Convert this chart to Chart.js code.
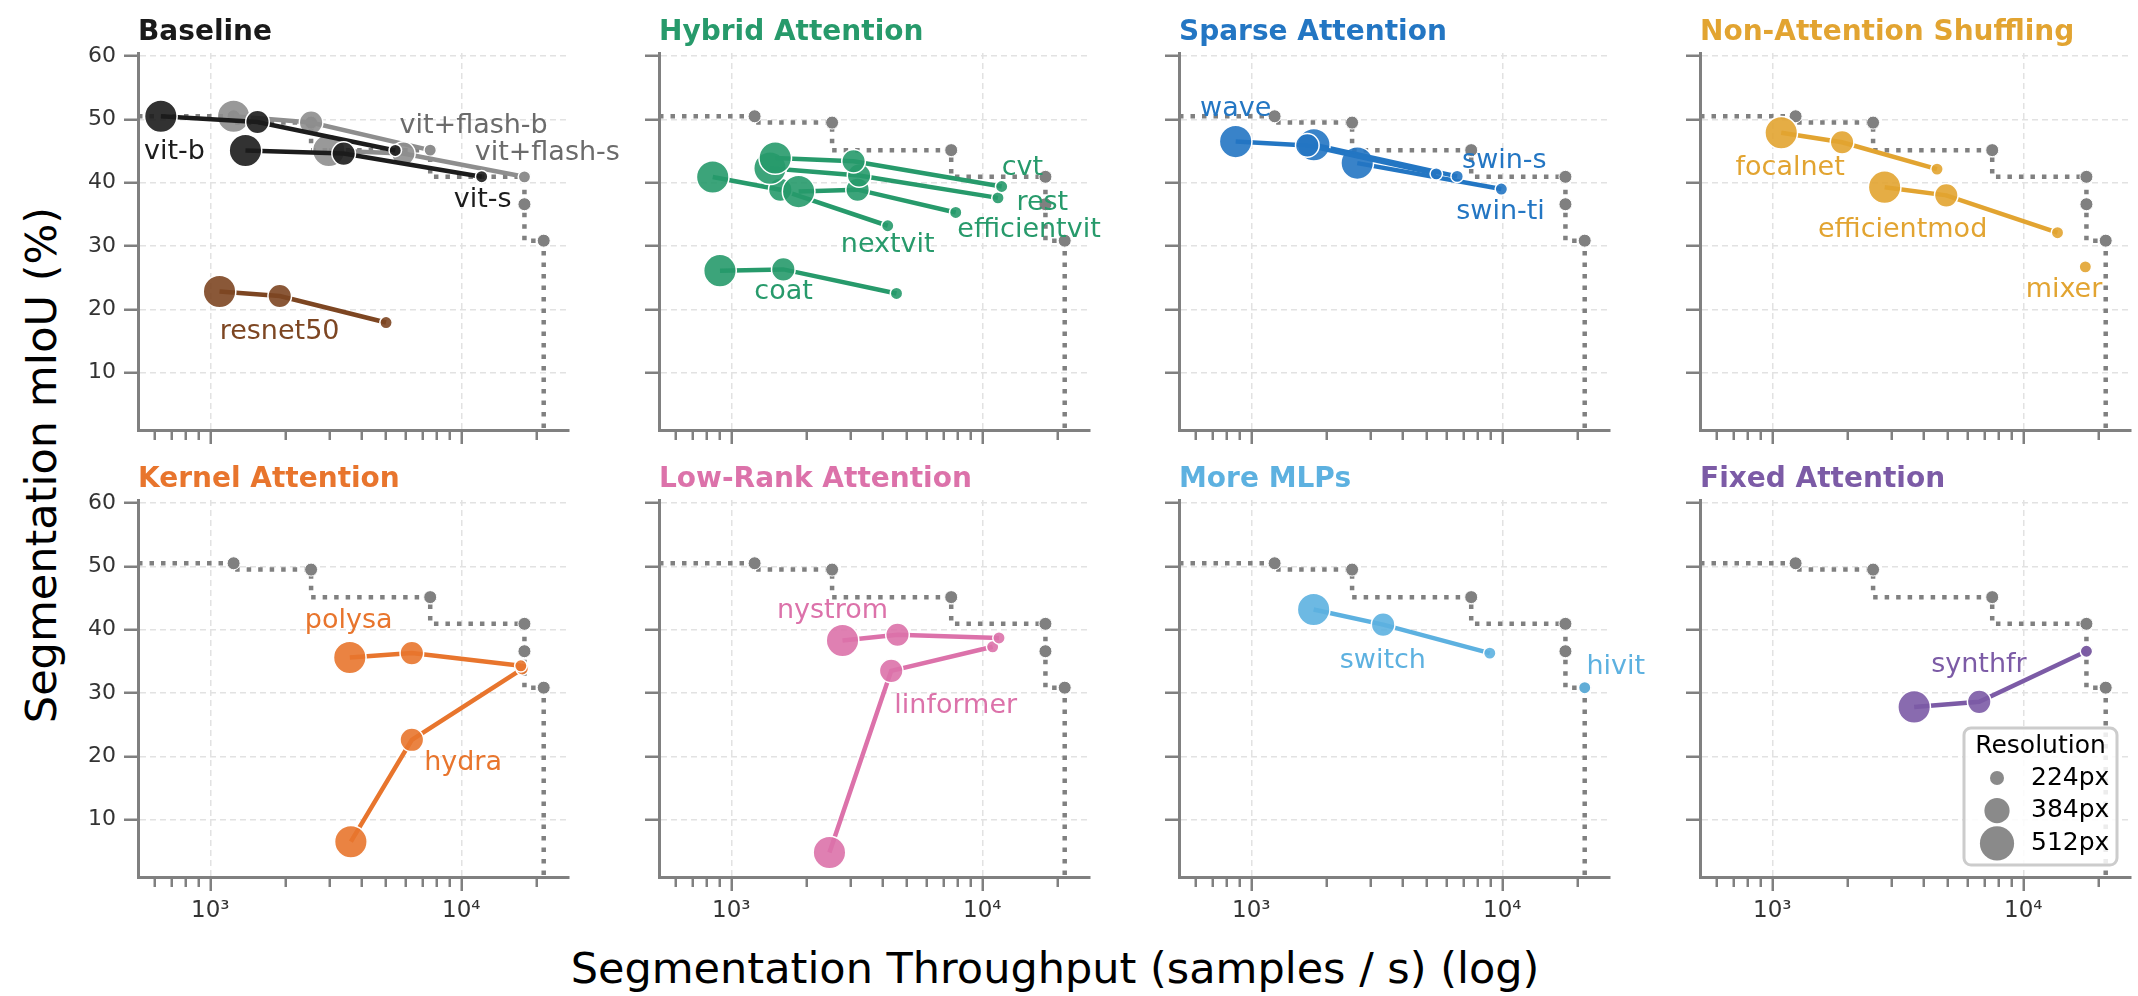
<!DOCTYPE html>
<html>
<head>
<meta charset="utf-8">
<script src="https://cdn.jsdelivr.net/npm/chart.js@4.4.0/dist/chart.umd.min.js"></script>
<style>
  html, body { margin: 0; padding: 0; overflow: hidden; background: #fff; }
  body { width: 2138px; height: 996px; position: relative; font-family: "DejaVu Sans", sans-serif; }
  canvas { position: absolute; }
  .axis-label { position: absolute; font-size: 43px; color: #000; white-space: nowrap; }
</style>
</head>
<body>
<div class="axis-label" style="left:41px; top:465px; transform: translate(-50%,-50%) rotate(-90deg);">Segmentation mIoU (%)</div>
<div class="axis-label" style="left:1055px; top:968px; transform: translate(-50%,-50%);">Segmentation Throughput (samples / s) (log)</div>
<script>
// each model: [throughput (samples/s), mIoU (%), resolution (px)]
const vitB = [[635, 50.5, 512], [1541, 49.6, 384], [5455, 45.1, 224]];
const vitS = [[1380, 45.1, 512], [3398, 44.6, 384], [12050, 40.95, 224]];
const vitFlashB = [[1238, 50.5, 512], [2520, 49.5, 384], [7516, 45.15, 224]];
const vitFlashS = [[2965, 45.1, 512], [5875, 44.6, 384], [17840, 40.93, 224]];
const resnet50 = [[1088, 22.8, 512], [1890, 22.1, 384], [5012, 17.9, 224]];

const cvt = [[1496, 43.9, 512], [3069, 43.4, 384], [11940, 39.4, 224]];
const rest = [[1426, 42.3, 512], [3228, 41.15, 384], [11540, 37.6, 224]];
const efficientvit = [[1854, 38.6, 512], [3184, 38.9, 384], [7834, 35.3, 224]];
const nextvit = [[843, 40.9, 512], [1567, 38.9, 384], [4198, 33.2, 224]];
const coat = [[901, 26.1, 512], [1611, 26.3, 384], [4550, 22.5, 224]];

const wave = [[866, 46.5, 512], [1671, 45.9, 384], [5455, 41.4, 224]];
const swinS = [[1775, 46.0, 512], [6607, 41.0, 224]];
const swinTi = [[2642, 43.1, 512], [9910, 39.0, 224]];

const focalnet = [[1085, 47.9, 512], [1896, 46.4, 384], [4530, 42.15, 224]];
const efficientmod = [[2802, 39.3, 512], [4932, 38.0, 384], [13680, 32.1, 224]];
const mixer = [[17660, 26.7, 224]];

const polysa = [[3594, 35.6, 512], [6350, 36.3, 384], [17260, 34.3, 224]];
const hydra = [[3630, 6.5, 512], [6350, 22.6, 384], [17490, 33.8, 224]];

const nystrom = [[2773, 38.3, 512], [4592, 39.2, 384], [11650, 38.7, 224]];
const linformer = [[2460, 4.8, 512], [4334, 33.5, 384], [10990, 37.3, 224]];

const switchMlp = [[1771, 43.2, 512], [3350, 40.8, 384], [8912, 36.3, 224]];
const hivit = [[21290, 30.84, 224]];

const synthfr = [[3673, 27.8, 512], [6671, 28.6, 384], [17840, 36.6, 224]];

// pareto front (grey dotted step line)
const paretoX = [1238, 2520, 7516, 17840, 17840, 21290];
const paretoY = [50.5, 49.5, 45.15, 40.93, 36.6, 30.84];

const xTicks = [600, 700, 800, 900, 1000, 2000, 3000, 4000, 5000, 6000, 7000, 8000, 9000, 10000, 20000];
const xMajor = [1000, 10000];
const yTicks = [10, 20, 30, 40, 50, 60];
const resolutions = [224, 384, 512];

// label anchors (text centre, in data coords)
const baselineLabels = [['vit-b', 719, 44.8], ['vit+flash-b', 11190, 48.9], ['vit+flash-s', 22000, 44.7], ['vit-s', 12160, 37.3], ['resnet50', 1888, 16.4]];
const hybridLabels = [['cvt', 14450, 42.3], ['rest', 17330, 36.8], ['efficientvit', 15350, 32.55], ['nextvit', 4198, 30.2], ['coat', 1615, 22.7]];
const sparseLabels = [['wave', 866, 51.7], ['swin-s', 10190, 43.5], ['swin-ti', 9840, 35.45]];
const shuffleLabels = [['focalnet', 1178, 42.3], ['efficientmod', 3304, 32.5], ['mixer', 14520, 23.1]];
const kernelLabels = [['polysa', 3556, 41.4], ['hydra', 10160, 18.9]];
const lowRankLabels = [['nystrom', 2529, 43.0], ['linformer', 7834, 27.9]];
const mlpLabels = [['switch', 3342, 35.1], ['hivit', 28310, 34.15]];
const fixedLabels = [['synthfr', 6653, 34.4]];

const FONT = '"DejaVu Sans", sans-serif';
Chart.defaults.font.family = FONT;

const X_MIN = 515, X_MAX = 26850;
const Y_MIN = 0.92, Y_MAX = 60.5;
const RADIUS = {224: 6.2, 384: 11.8, 512: 16.3};
const AXIS_GREY = '#808080';

const C = {
  black: '#1c1c1c', grey: '#8e8e8e', brown: '#7d4622', green: '#279a6b', blue: '#2376c3',
  gold: '#e2a431', orange: '#e8752d', pink: '#dc72aa', sky: '#5db1e0', purple: '#7c5ba6'
};

function rgba(hex, a) {
  const n = parseInt(hex.slice(1), 16);
  return `rgba(${n >> 16},${(n >> 8) & 255},${n & 255},${a})`;
}

const panels = [
  { title: 'Baseline', color: '#1a1a1a', labels: baselineLabels, series: [
    ['vit+flash-b', vitFlashB, C.grey, '#6b6b6b'], ['vit+flash-s', vitFlashS, C.grey, '#6b6b6b'],
    ['vit-b', vitB, C.black], ['vit-s', vitS, C.black], ['resnet50', resnet50, C.brown]] },
  { title: 'Hybrid Attention', color: C.green, labels: hybridLabels, series: [
    ['coat', coat, C.green], ['nextvit', nextvit, C.green], ['efficientvit', efficientvit, C.green],
    ['rest', rest, C.green], ['cvt', cvt, C.green]] },
  { title: 'Sparse Attention', color: C.blue, labels: sparseLabels, series: [
    ['swin-ti', swinTi, C.blue], ['swin-s', swinS, C.blue], ['wave', wave, C.blue]] },
  { title: 'Non-Attention Shuffling', color: C.gold, labels: shuffleLabels, series: [
    ['focalnet', focalnet, C.gold], ['efficientmod', efficientmod, C.gold], ['mixer', mixer, C.gold]] },
  { title: 'Kernel Attention', color: C.orange, labels: kernelLabels, series: [
    ['hydra', hydra, C.orange], ['polysa', polysa, C.orange]] },
  { title: 'Low-Rank Attention', color: C.pink, labels: lowRankLabels, series: [
    ['linformer', linformer, C.pink], ['nystrom', nystrom, C.pink]] },
  { title: 'More MLPs', color: C.sky, labels: mlpLabels, series: [
    ['switch', switchMlp, C.sky], ['hivit', hivit, C.sky]] },
  { title: 'Fixed Attention', color: C.purple, labels: fixedLabels, series: [
    ['synthfr', synthfr, C.purple]] }
];

const COL_LEFT = [138, 659, 1179, 1700];
const ROW_TOP = [53, 500];
const AREA_W = 431, AREA_H = 377;
const PAD_L = 80, PAD_T = 60, PAD_R = 75, PAD_B = 60;

// titles + text annotations
const panelText = {
  id: 'panelText',
  afterDatasetsDraw(chart, args, opts) {
    const {ctx, chartArea, scales: {x, y}} = chart;
    ctx.save();
    ctx.font = 'bold 28px ' + FONT;
    ctx.fillStyle = opts.color;
    ctx.textAlign = 'left';
    ctx.textBaseline = 'alphabetic';
    ctx.fillText(opts.title, chartArea.left, chartArea.top - 13);
    ctx.font = '27px ' + FONT;
    ctx.textAlign = 'center';
    ctx.textBaseline = 'middle';
    opts.labels.forEach(([text, lx, ly]) => {
      const s = opts.series.find(d => d[0] === text);
      ctx.fillStyle = s[3] || s[2];
      ctx.fillText(text, x.getPixelForValue(lx), y.getPixelForValue(ly));
    });
    ctx.restore();
  }
};

// "Resolution" size legend
const resLegend = {
  id: 'resLegend',
  afterDraw(chart, args, opts) {
    if (!opts.show) return;
    const {ctx, chartArea: a} = chart;
    const w = 153, h = 137;
    const x0 = a.right - 167, y0 = a.bottom - 149;
    ctx.save();
    ctx.beginPath();
    ctx.roundRect(x0, y0, w, h, 7);
    ctx.fillStyle = 'rgba(255,255,255,0.85)';
    ctx.fill();
    ctx.lineWidth = 3;
    ctx.strokeStyle = '#cccccc';
    ctx.stroke();
    ctx.fillStyle = '#000';
    ctx.font = '25px ' + FONT;
    ctx.textAlign = 'center';
    ctx.textBaseline = 'middle';
    ctx.fillText('Resolution', x0 + w / 2, y0 + 18);
    ctx.textAlign = 'left';
    resolutions.forEach((r, i) => {
      const cy = y0 + 50 + i * 32.7;
      ctx.beginPath();
      ctx.arc(x0 + 33, cy, RADIUS[r] + 0.8, 0, Math.PI * 2);
      ctx.fillStyle = '#8a8a8a';
      ctx.fill();
      ctx.fillStyle = '#000';
      ctx.fillText(r + 'px', x0 + 67, cy);
    });
    ctx.restore();
  }
};

panels.forEach((p, i) => {
  const col = i % 4, row = Math.floor(i / 4);
  const cv = document.createElement('canvas');
  cv.width = PAD_L + AREA_W + PAD_R;
  cv.height = PAD_T + AREA_H + PAD_B;
  cv.style.left = (COL_LEFT[col] - PAD_L) + 'px';
  cv.style.top = (ROW_TOP[row] - PAD_T) + 'px';
  document.body.appendChild(cv);

  const n = p.series.length;
  const datasets = p.series.map(([name, pts, color], k) => ({
    label: name,
    data: pts.map(([x, y]) => ({x, y})),
    borderColor: color,
    borderWidth: 4.5,
    pointRadius: pts.map(q => RADIUS[q[2]]),
    pointBackgroundColor: rgba(color, 0.9),
    pointBorderColor: '#ffffff',
    pointBorderWidth: 1.5,
    order: n - k
  }));
  const front = paretoX.map((x, k) => ({x, y: paretoY[k]}));
  datasets.push({
    label: 'pareto',
    data: [{x: X_MIN, y: paretoY[0]}, ...front, {x: paretoX[paretoX.length - 1], y: Y_MIN}],
    stepped: 'after',
    borderColor: AXIS_GREY,
    borderWidth: 4.5,
    borderDash: [4.5, 7],
    borderCapStyle: 'butt',
    pointRadius: [0, ...front.map(() => 6.5), 0],
    pointBackgroundColor: AXIS_GREY,
    pointBorderColor: '#ffffff',
    pointBorderWidth: 1,
    order: 100
  });

  const tickFont = {family: FONT, size: 23};
  new Chart(cv, {
    type: 'line',
    data: {datasets},
    options: {
      responsive: false,
      animation: false,
      devicePixelRatio: 1,
      layout: {padding: {left: 0, top: PAD_T, right: PAD_R, bottom: 0}},
      plugins: {
        legend: {display: false},
        tooltip: {enabled: false},
        panelText: {title: p.title, color: p.color, labels: p.labels, series: p.series},
        resLegend: {show: i === 7}
      },
      scales: {
        x: {
          type: 'logarithmic',
          min: X_MIN, max: X_MAX,
          afterBuildTicks: axis => { axis.ticks = xTicks.map(v => ({value: v, major: xMajor.includes(v)})); },
          afterFit: axis => { axis.height = PAD_B; },
          grid: {
            color: c => (c.tick && c.tick.major) ? '#e2e2e2' : 'rgba(0,0,0,0)',
            lineWidth: 1.5,
            tickColor: AXIS_GREY,
            tickWidth: 2.5,
            tickLength: 14,
            tickBorderDash: c => (c.tick && c.tick.major) ? [] : [8, 100]
          },
          border: {color: AXIS_GREY, width: 3, dash: [6, 4]},
          ticks: {
            display: row === 1,
            autoSkip: false,
            maxRotation: 0,
            padding: 6,
            color: '#333',
            font: tickFont,
            callback: v => v === 1000 ? '10³' : (v === 10000 ? '10⁴' : '')
          }
        },
        y: {
          min: Y_MIN, max: Y_MAX,
          afterBuildTicks: axis => { axis.ticks = yTicks.map(v => ({value: v})); },
          afterFit: axis => { axis.width = PAD_L; },
          grid: {color: '#e2e2e2', lineWidth: 1.5, tickColor: AXIS_GREY, tickWidth: 2.5, tickLength: 14},
          border: {color: AXIS_GREY, width: 3, dash: [6, 4]},
          ticks: {display: col === 0, padding: 8, color: '#333', font: {family: FONT, size: 22}}
        }
      }
    },
    plugins: [panelText, resLegend]
  });
});
</script>
</body>
</html>
